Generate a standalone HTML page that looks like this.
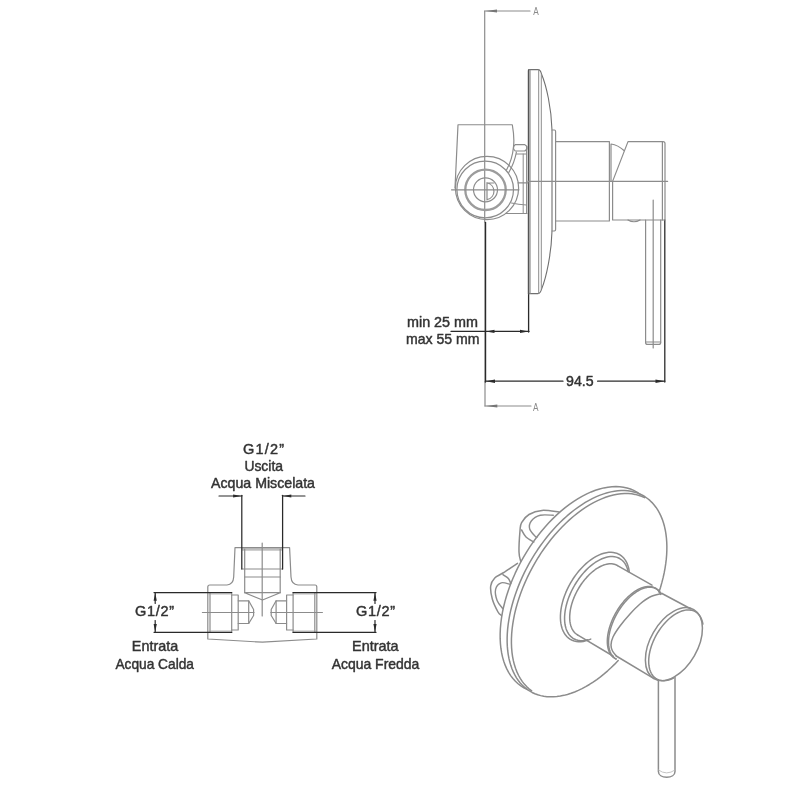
<!DOCTYPE html>
<html><head><meta charset="utf-8"><title>Schema tecnico</title>
<style>
html,body{margin:0;padding:0;background:#fff;}
svg{display:block;font-family:"Liberation Sans",sans-serif;}
</style></head><body>
<svg width="800" height="800" viewBox="0 0 800 800" stroke-linecap="round" stroke-linejoin="round">
<defs><filter id="soft" x="0" y="0" width="800" height="800" filterUnits="userSpaceOnUse"><feGaussianBlur stdDeviation="0.7"/></filter></defs>
<rect width="800" height="800" fill="#fff"/>
<g filter="url(#soft)">
<line x1="484.7" y1="11" x2="484.7" y2="222" stroke="#8c8c8c" stroke-width="1.2"/>
<line x1="484.7" y1="11" x2="530" y2="11" stroke="#8c8c8c" stroke-width="1.2"/>
<polygon points="485,11 497.0,9.5 497.0,12.5" fill="#777"/>
<text x="536" y="15" font-size="10.5" text-anchor="middle" fill="#8a8a8a" stroke="#8a8a8a" stroke-width="0" font-weight="normal" textLength="5.5" lengthAdjust="spacingAndGlyphs">A</text>
<line x1="485" y1="382" x2="485" y2="406" stroke="#8c8c8c" stroke-width="1.2"/>
<line x1="485" y1="406" x2="531" y2="406" stroke="#8c8c8c" stroke-width="1.2"/>
<polygon points="485.3,406 497.3,404.5 497.3,407.5" fill="#777"/>
<text x="535.7" y="411" font-size="10.5" text-anchor="middle" fill="#8a8a8a" stroke="#8a8a8a" stroke-width="0" font-weight="normal" textLength="5.5" lengthAdjust="spacingAndGlyphs">A</text>
<line x1="485.4" y1="222.5" x2="485.4" y2="382" stroke="#2b2b2b" stroke-width="1.6"/>
<line x1="664.8" y1="220" x2="664.8" y2="382" stroke="#2b2b2b" stroke-width="1.3"/>
<line x1="528.6" y1="293" x2="528.6" y2="332" stroke="#2b2b2b" stroke-width="1.3"/>
<line x1="451" y1="331.4" x2="529" y2="331.4" stroke="#2b2b2b" stroke-width="1.2"/>
<polygon points="486,331.4 494.5,329.7 494.5,333.09999999999997" fill="#2b2b2b"/>
<polygon points="528.5,331.4 520.0,333.09999999999997 520.0,329.7" fill="#2b2b2b"/>
<line x1="485.4" y1="381.2" x2="563" y2="381.2" stroke="#2b2b2b" stroke-width="1.2"/>
<line x1="597.6" y1="381.2" x2="664.8" y2="381.2" stroke="#2b2b2b" stroke-width="1.2"/>
<polygon points="486,381.2 495.0,379.5 495.0,382.9" fill="#2b2b2b"/>
<polygon points="664.5,381.2 655.5,382.9 655.5,379.5" fill="#2b2b2b"/>
<text x="442.5" y="327" font-size="14.5" text-anchor="middle" fill="#333" stroke="#333" stroke-width="0.45" font-weight="normal" textLength="71" lengthAdjust="spacingAndGlyphs">min 25 mm</text>
<text x="442.8" y="344" font-size="14.5" text-anchor="middle" fill="#333" stroke="#333" stroke-width="0.45" font-weight="normal" textLength="73.5" lengthAdjust="spacingAndGlyphs">max 55 mm</text>
<text x="579.8" y="386" font-size="15" text-anchor="middle" fill="#333" stroke="#333" stroke-width="0.45" font-weight="normal" textLength="27.6" lengthAdjust="spacingAndGlyphs">94.5</text>
<path d="M528.4,293.6 L528.4,70.8 Q528.4,69.6 529.6,69.6 L538,69.6 Q540.5,69.6 541.5,74 C546.5,86 551.4,108 552,130 L552,231 C551.4,253 546.5,277 541.5,289.2 Q540.5,293.6 538,293.6 Z" stroke="#707070" stroke-width="1.1" fill="none" />
<line x1="528.6" y1="70" x2="528.6" y2="293.6" stroke="#555" stroke-width="1.4"/>
<line x1="530" y1="70" x2="530" y2="293.5" stroke="#8c8c8c" stroke-width="1.2"/>
<line x1="538.7" y1="70" x2="538.7" y2="293.5" stroke="#8c8c8c" stroke-width="1.0"/>
<line x1="541.3" y1="74" x2="541.3" y2="289" stroke="#8c8c8c" stroke-width="1.0"/>
<path d="M552,130 L554.4,130 Q555.6,130 555.6,131.4 L555.6,229.6 Q555.6,231 554.4,231 L552,231" stroke="#8c8c8c" stroke-width="1.2" fill="none" />
<path d="M556,141.6 L609.4,141.6 L609.4,221 L556,221" stroke="#8c8c8c" stroke-width="1.2" fill="none" />
<path d="M611,181.4 L611,144 Q618,145 624,150.5" stroke="#8c8c8c" stroke-width="1.2" fill="none" />
<path d="M612.6,220 L612.6,181.4 L628,141.6 L663,141.6 Q665,141.6 665,143.6 L665,220 Z" stroke="#8c8c8c" stroke-width="1.2" fill="none" />
<line x1="662.4" y1="141.6" x2="662.4" y2="220" stroke="#8c8c8c" stroke-width="1.2"/>
<line x1="528" y1="181.4" x2="667.6" y2="181.4" stroke="#8c8c8c" stroke-width="1.2"/>
<path d="M628,220 Q634,223.5 640,220" stroke="#8c8c8c" stroke-width="1.2" fill="none" />
<path d="M645.6,220 L645.6,342.4 Q645.6,344.4 647.6,344.4 L658.7,344.4 Q660.7,344.4 660.7,342.4 L660.7,220" stroke="#8c8c8c" stroke-width="1.2" fill="none" />
<line x1="645.6" y1="342" x2="660.7" y2="342" stroke="#8c8c8c" stroke-width="1.2"/>
<line x1="653.2" y1="200" x2="653.2" y2="348" stroke="#8c8c8c" stroke-width="1.2"/>
<path d="M455,188 L458,124.75 L512.3,124.75 C513.6,132 514.2,140 513.6,146 C512.8,155 510.5,163 506.5,170" stroke="#8c8c8c" stroke-width="1.2" fill="none" />
<path d="M516.4,152 C515,160 512,167 508.8,172.5" stroke="#8c8c8c" stroke-width="1.2" fill="none" />
<path d="M515.2,144.6 L524.8,144.6 L527,146.6 L527,149 L524.8,151 L515.2,151 L513.6,149 L513.6,146.6 Z" stroke="#8c8c8c" stroke-width="1.2" fill="none" />
<line x1="526.6" y1="146" x2="526.6" y2="213.5" stroke="#8c8c8c" stroke-width="1.1"/>
<line x1="523.2" y1="154" x2="523.2" y2="213" stroke="#8c8c8c" stroke-width="1.0"/>
<line x1="516.4" y1="154" x2="526.5" y2="154" stroke="#8c8c8c" stroke-width="1.0"/>
<circle cx="487" cy="188" r="31.6" stroke="#8c8c8c" stroke-width="1.2" fill="none"/>
<circle cx="485.2" cy="189.5" r="28.3" stroke="#8c8c8c" stroke-width="1.2" fill="none"/>
<circle cx="485.5" cy="189.8" r="20.2" stroke="#9c9c9c" stroke-width="2.3" fill="none"/>
<circle cx="485.5" cy="189.8" r="12" stroke="#8c8c8c" stroke-width="1.2" fill="none"/>
<path d="M487,183 L494,183 M487,182.5 L487,200 M487.5,183 A8.5,8.5 0 0 1 487.5,199.5" stroke="#8c8c8c" stroke-width="1.2" fill="none" />
<line x1="451.5" y1="189.8" x2="519" y2="189.8" stroke="#8c8c8c" stroke-width="1.2"/>
<line x1="518" y1="182.8" x2="528" y2="182.8" stroke="#8c8c8c" stroke-width="1.2"/>
<path d="M511.5,203 Q518,204.5 526.5,205" stroke="#8c8c8c" stroke-width="1.2" fill="none" />
<line x1="506" y1="213.5" x2="527" y2="213.5" stroke="#8c8c8c" stroke-width="1.2"/>
<path d="M235,547.7 L289.6,547.7 L291,577 Q291.5,584.6 298,585 L315,585 Q316.8,585 316.8,587 L316.8,639 L262.5,642.2 L207.8,639 L207.8,587 Q207.8,585 209.8,585 L227,585 Q233.2,584.6 233.7,577 Z" stroke="#8c8c8c" stroke-width="1.2" fill="none" />
<line x1="242.2" y1="549" x2="282.5" y2="549" stroke="#8c8c8c" stroke-width="1.2"/>
<line x1="242.2" y1="550.2" x2="282.5" y2="550.2" stroke="#aaa" stroke-width="0.8"/>
<line x1="244.7" y1="549" x2="244.7" y2="592.7" stroke="#8c8c8c" stroke-width="1.2"/>
<line x1="280.2" y1="549" x2="280.2" y2="592.7" stroke="#8c8c8c" stroke-width="1.2"/>
<line x1="242.2" y1="569" x2="282.5" y2="569" stroke="#8c8c8c" stroke-width="1.2"/>
<line x1="244.7" y1="577" x2="280.2" y2="577" stroke="#8c8c8c" stroke-width="1.2"/>
<path d="M244.7,592.7 L280.2,592.7 M244.7,592.7 L262.5,600 L280.2,592.7" stroke="#8c8c8c" stroke-width="1.2" fill="none" />
<line x1="262.2" y1="543" x2="262.2" y2="616" stroke="#8c8c8c" stroke-width="1.2"/>
<line x1="210" y1="592.7" x2="210" y2="632.5" stroke="#8c8c8c" stroke-width="1.2"/>
<line x1="231.7" y1="592.7" x2="231.7" y2="632.5" stroke="#8c8c8c" stroke-width="1.2"/>
<line x1="209" y1="594" x2="231.7" y2="594" stroke="#aaa" stroke-width="0.8"/>
<line x1="209" y1="631" x2="231.7" y2="631" stroke="#aaa" stroke-width="0.8"/>
<path d="M231.7,595 L238.2,595 L238.2,630 L231.7,630" stroke="#8c8c8c" stroke-width="1.2" fill="none" />
<path d="M238.2,600.8 L248.7,600.8 L253.6,609.5 L253.6,615.5 L248.7,623.5 L238.2,623.5" stroke="#8c8c8c" stroke-width="1.2" fill="none" />
<line x1="248.7" y1="600.8" x2="248.7" y2="623.5" stroke="#8c8c8c" stroke-width="1.2"/>
<line x1="202.4" y1="612.5" x2="254" y2="612.5" stroke="#8c8c8c" stroke-width="1.2"/>
<line x1="314.79999999999995" y1="592.7" x2="314.79999999999995" y2="632.5" stroke="#8c8c8c" stroke-width="1.2"/>
<line x1="293.09999999999997" y1="592.7" x2="293.09999999999997" y2="632.5" stroke="#8c8c8c" stroke-width="1.2"/>
<line x1="315.79999999999995" y1="594" x2="293.09999999999997" y2="594" stroke="#aaa" stroke-width="0.8"/>
<line x1="315.79999999999995" y1="631" x2="293.09999999999997" y2="631" stroke="#aaa" stroke-width="0.8"/>
<path d="M293.09999999999997,595 L286.59999999999997,595 L286.59999999999997,630 L293.09999999999997,630" stroke="#8c8c8c" stroke-width="1.2" fill="none" />
<path d="M286.59999999999997,600.8 L276.09999999999997,600.8 L271.19999999999993,609.5 L271.19999999999993,615.5 L276.09999999999997,623.5 L286.59999999999997,623.5" stroke="#8c8c8c" stroke-width="1.2" fill="none" />
<line x1="276.09999999999997" y1="600.8" x2="276.09999999999997" y2="623.5" stroke="#8c8c8c" stroke-width="1.2"/>
<line x1="322.4" y1="612.5" x2="270.79999999999995" y2="612.5" stroke="#8c8c8c" stroke-width="1.2"/>
<line x1="241.8" y1="495.3" x2="241.8" y2="569" stroke="#2b2b2b" stroke-width="1.25"/>
<line x1="282.6" y1="495.3" x2="282.6" y2="569" stroke="#2b2b2b" stroke-width="1.25"/>
<line x1="219" y1="496" x2="241.8" y2="496" stroke="#2b2b2b" stroke-width="1.2"/>
<polygon points="241.6,496 233.1,497.6 233.1,494.4" fill="#2b2b2b"/>
<line x1="282.6" y1="496" x2="305" y2="496" stroke="#2b2b2b" stroke-width="1.2"/>
<polygon points="282.8,496 291.3,494.4 291.3,497.6" fill="#2b2b2b"/>
<line x1="154" y1="592.5" x2="231.7" y2="592.5" stroke="#2b2b2b" stroke-width="1.25"/>
<line x1="154" y1="632.3" x2="231.7" y2="632.3" stroke="#2b2b2b" stroke-width="1.25"/>
<line x1="293" y1="592.5" x2="376" y2="592.5" stroke="#2b2b2b" stroke-width="1.25"/>
<line x1="293" y1="632.3" x2="376" y2="632.3" stroke="#2b2b2b" stroke-width="1.25"/>
<line x1="155.2" y1="592.5" x2="155.2" y2="603.5" stroke="#2b2b2b" stroke-width="1.2"/>
<polygon points="155.2,592.8 156.79999999999998,600.8 153.6,600.8" fill="#2b2b2b"/>
<line x1="155.2" y1="620.5" x2="155.2" y2="632.3" stroke="#2b2b2b" stroke-width="1.2"/>
<polygon points="155.2,632 153.6,624.0 156.79999999999998,624.0" fill="#2b2b2b"/>
<line x1="375" y1="592.5" x2="375" y2="603.5" stroke="#2b2b2b" stroke-width="1.2"/>
<polygon points="375,592.8 376.6,600.8 373.4,600.8" fill="#2b2b2b"/>
<line x1="375" y1="620.5" x2="375" y2="632.3" stroke="#2b2b2b" stroke-width="1.2"/>
<polygon points="375,632 373.4,624.0 376.6,624.0" fill="#2b2b2b"/>
<text x="263.5" y="454" font-size="14.5" text-anchor="middle" fill="#333" stroke="#333" stroke-width="0.45" font-weight="normal" textLength="41" lengthAdjust="spacing">G1/2”</text>
<text x="263.7" y="471" font-size="14.5" text-anchor="middle" fill="#333" stroke="#333" stroke-width="0.45" font-weight="normal" textLength="38.6" lengthAdjust="spacingAndGlyphs">Uscita</text>
<text x="263" y="488" font-size="14.5" text-anchor="middle" fill="#333" stroke="#333" stroke-width="0.45" font-weight="normal" textLength="104" lengthAdjust="spacingAndGlyphs">Acqua Miscelata</text>
<text x="154.5" y="616.3" font-size="14.5" text-anchor="middle" fill="#333" stroke="#333" stroke-width="0.45" font-weight="normal" textLength="39" lengthAdjust="spacing">G1/2”</text>
<text x="155" y="651.2" font-size="14.5" text-anchor="middle" fill="#333" stroke="#333" stroke-width="0.45" font-weight="normal" textLength="46.3" lengthAdjust="spacingAndGlyphs">Entrata</text>
<text x="154.7" y="668.8" font-size="14.5" text-anchor="middle" fill="#333" stroke="#333" stroke-width="0.45" font-weight="normal" textLength="78.6" lengthAdjust="spacingAndGlyphs">Acqua Calda</text>
<text x="375.5" y="616.3" font-size="14.5" text-anchor="middle" fill="#333" stroke="#333" stroke-width="0.45" font-weight="normal" textLength="39" lengthAdjust="spacing">G1/2”</text>
<text x="375.3" y="651.2" font-size="14.5" text-anchor="middle" fill="#333" stroke="#333" stroke-width="0.45" font-weight="normal" textLength="46.6" lengthAdjust="spacingAndGlyphs">Entrata</text>
<text x="375.5" y="668.8" font-size="14.5" text-anchor="middle" fill="#333" stroke="#333" stroke-width="0.45" font-weight="normal" textLength="87.7" lengthAdjust="spacingAndGlyphs">Acqua Fredda</text>
<path d="M527.05,689.37 L523.88,687.78 L520.87,685.89 L518.04,683.73 L515.39,681.28 L512.93,678.57 L510.67,675.59 L508.62,672.36 L506.77,668.88 L505.15,665.17 L503.74,661.23 L502.56,657.09 L501.61,652.74 L500.89,648.21 L500.41,643.51 L500.16,638.64 L500.15,633.63 L500.37,628.49 L500.83,623.24 L501.52,617.89 L502.44,612.45 L503.60,606.95 L504.98,601.39 L506.58,595.80 L508.40,590.20 L510.43,584.59 L512.67,578.99 L515.11,573.43 L517.73,567.92 L520.55,562.47 L523.54,557.10 L526.69,551.83 L530.00,546.67 L533.46,541.63 L537.06,536.74 L540.79,532.01 L544.63,527.45 L548.58,523.07 L552.62,518.88 L556.74,514.91 L560.93,511.16 L565.17,507.64 L569.46,504.36 L573.78,501.34 L578.12,498.58 L582.46,496.08 L586.80,493.87 L591.12,491.94 L595.40,490.29 L599.64,488.94 L603.82,487.89 L607.93,487.14 L611.96,486.69 L615.89,486.55 L619.72,486.72 L623.43,487.18 L627.01,487.95 L630.45,489.03 L633.74,490.40 L636.88,492.06 L639.84,494.01" stroke="#8c8c8c" stroke-width="1.5" fill="none" />
<path d="M618.19,660.59 L614.75,664.15 L611.25,667.57 L607.70,670.82 L604.10,673.91 L600.47,676.83 L596.81,679.57 L593.12,682.12 L589.43,684.49 L585.73,686.66 L582.03,688.63 L578.34,690.40 L574.67,691.96 L571.03,693.30 L567.42,694.44 L563.86,695.36 L560.34,696.06 L556.88,696.54 L553.49,696.80 L550.16,696.84 L546.92,696.65 L543.76,696.25 L540.70,695.62 L537.73,694.78 L534.87,693.72 L532.12,692.45 L529.49,690.96 L526.99,689.26 L524.61,687.36 L522.37,685.26 L520.26,682.96 L518.30,680.47 L516.49,677.80 L514.82,674.94 L513.32,671.91 L511.97,668.71 L510.78,665.35 L509.75,661.83 L508.89,658.17 L508.20,654.37 L507.68,650.44 L507.33,646.39 L507.15,642.23 L507.14,637.96 L507.30,633.60 L507.63,629.15 L508.14,624.62 L508.81,620.03 L509.65,615.38 L510.66,610.69 L511.83,605.96 L513.16,601.20 L514.65,596.43 L516.30,591.65 L518.10,586.87 L520.04,582.11 L522.13,577.38 L524.36,572.68 L526.72,568.02 L529.21,563.42 L531.83,558.89 L534.57,554.43 L537.41,550.05 L540.37,545.77 L543.42,541.59 L546.57,537.52 L549.80,533.58 L553.12,529.76 L556.51,526.08 L559.96,522.54 L563.47,519.16 L567.03,515.94 L570.63,512.88 L574.27,510.00 L577.94,507.30 L581.63,504.78 L585.32,502.45 L589.03,500.32 L592.72,498.39 L596.41,496.67 L600.07,495.15 L603.71,493.85 L607.31,492.76 L610.86,491.88 L614.37,491.23 L617.82,490.79 L621.20,490.58 L624.50,490.58 L627.73,490.81 L630.87,491.26 L633.91,491.93 L636.86,492.82 L639.70,493.92 L642.42,495.24 L645.03,496.77 L647.51,498.51 L649.86,500.45 L652.07,502.59 L654.15,504.93 L656.08,507.46 L657.86,510.17 L659.50,513.06 L660.97,516.13 L662.29,519.36 L663.44,522.76 L664.44,526.30 L665.26,529.99 L665.92,533.82 L666.40,537.77 L666.72,541.84 L666.87,546.03 L666.84,550.32 L666.65,554.70 L666.28,559.17 L665.74,563.70 L665.03,568.31 L664.16,572.97 L663.12,577.67 L661.91,582.41 L660.55,587.17 L659.03,591.94" stroke="#8c8c8c" stroke-width="1.5" fill="none" />
<path d="M531.65,690.87 L529.04,688.85 L526.59,686.59 L524.30,684.09 L522.18,681.37 L520.24,678.42 L518.48,675.26 L516.91,671.89 L515.53,668.32 L514.35,664.57 L513.36,660.64 L512.57,656.54 L511.98,652.28 L511.60,647.87 L511.42,643.33 L511.44,638.67 L511.67,633.89 L512.11,629.02 L512.75,624.06 L513.59,619.03 L514.62,613.93 L515.86,608.79 L517.29,603.62 L518.91,598.42 L520.71,593.22 L522.69,588.02 L524.85,582.84 L527.18,577.70 L529.68,572.61 L532.33,567.57 L535.13,562.60 L538.08,557.73 L541.16,552.95 L544.37,548.28 L547.70,543.73 L551.14,539.32 L554.68,535.06 L558.31,530.95 L562.03,527.01 L565.82,523.24 L569.68,519.67 L573.59,516.29 L577.54,513.12 L581.53,510.16 L585.54,507.42 L589.56,504.92 L593.59,502.64 L597.61,500.61 L601.61,498.83 L605.58,497.29 L609.51,496.01 L613.39,494.99 L617.21,494.23 L620.97,493.74 L624.64,493.50 L628.23,493.54 L631.72,493.83 L635.10,494.39 L638.36,495.21 L641.51,496.30 L644.52,497.64" stroke="#8c8c8c" stroke-width="1.5" fill="none" />
<path d="M590.73,639.12 L588.19,640.12 L585.68,640.88 L583.23,641.40 L580.84,641.67 L578.53,641.70 L576.32,641.47 L574.20,641.00 L572.20,640.29 L570.33,639.34 L568.59,638.15 L567.00,636.73 L565.57,635.09 L564.30,633.25 L563.20,631.20 L562.27,628.96 L561.53,626.54 L560.97,623.96 L560.60,621.24 L560.42,618.37 L560.44,615.39 L560.64,612.31 L561.04,609.14 L561.62,605.90 L562.39,602.62 L563.34,599.30 L564.46,595.97 L565.76,592.65 L567.21,589.35 L568.82,586.10 L570.58,582.90 L572.47,579.78 L574.48,576.76 L576.61,573.85 L578.84,571.07 L581.16,568.43 L583.56,565.95 L586.02,563.64 L588.53,561.52 L591.08,559.59 L593.65,557.87 L596.22,556.37 L598.79,555.09 L601.34,554.05 L603.85,553.24 L606.31,552.68 L608.72,552.36 L611.04,552.29 L613.28,552.47 L615.41,552.89 L617.43,553.56 L619.33,554.47 L621.09,555.61 L622.71,556.99 L624.17,558.58 L625.48,560.39 L626.61,562.40 L627.57,564.61 L628.34,566.99 L628.94,569.54 L629.34,572.24" stroke="#8c8c8c" stroke-width="1.5" fill="none" />
<path d="M587.87,639.70 L585.72,640.22 L583.62,640.53 L581.59,640.64 L579.63,640.54 L577.76,640.23 L575.98,639.71 L574.30,638.99 L572.73,638.07 L571.29,636.95 L569.97,635.65 L568.78,634.16 L567.73,632.49 L566.82,630.66 L566.06,628.67 L565.46,626.53 L565.00,624.25 L564.71,621.84 L564.57,619.32 L564.59,616.70 L564.78,613.98 L565.12,611.19 L565.61,608.34 L566.26,605.44 L567.06,602.50 L568.01,599.55 L569.10,596.59 L570.33,593.64 L571.68,590.72 L573.17,587.84 L574.76,585.00 L576.47,582.24 L578.28,579.56 L580.17,576.97 L582.15,574.49 L584.20,572.12 L586.32,569.89 L588.48,567.80 L590.69,565.87 L592.92,564.09 L595.18,562.49 L597.44,561.06 L599.70,559.83 L601.94,558.78 L604.16,557.93 L606.34,557.28 L608.47,556.84 L610.55,556.60 L612.55,556.58 L614.48,556.76 L616.32,557.14 L618.06,557.74 L619.70,558.53 L621.22,559.52 L622.62,560.71 L623.89,562.09 L625.03,563.64 L626.03,565.37 L626.88,567.26 L627.58,569.31 L628.13,571.51" stroke="#8c8c8c" stroke-width="1.5" fill="none" />
<path d="M577.50,634.84 L576.52,634.21 L575.59,633.49 L574.73,632.67 L573.92,631.77 L573.18,630.77 L572.51,629.70 L571.91,628.54 L571.37,627.31 L570.91,626.00 L570.52,624.62 L570.21,623.18 L569.97,621.67 L569.80,620.10 L569.71,618.48 L569.70,616.81 L569.77,615.09 L569.91,613.34 L570.12,611.54 L570.41,609.72 L570.77,607.86 L571.21,605.99 L571.72,604.10 L572.30,602.20 L572.95,600.30 L573.67,598.40 L574.45,596.50 L575.30,594.61 L576.20,592.73 L577.17,590.88 L578.19,589.05 L579.26,587.25 L580.38,585.49 L581.55,583.77 L582.77,582.09 L584.02,580.46 L585.31,578.89 L586.64,577.38 L587.99,575.92 L589.37,574.54 L590.77,573.22 L592.20,571.98 L593.63,570.82 L595.08,569.73 L596.53,568.73 L597.99,567.82 L599.44,567.00 L600.89,566.26 L602.33,565.62 L603.76,565.07 L605.16,564.62 L606.55,564.27 L607.92,564.02 L609.25,563.86 L610.55,563.81 L611.82,563.85 L613.05,564.00 L614.23,564.24 L615.37,564.58 L616.46,565.02 L617.50,565.56" stroke="#8c8c8c" stroke-width="1.5" fill="none" />
<line x1="617.5" y1="565.6" x2="652" y2="585.2" stroke="#8c8c8c" stroke-width="1.5"/>
<line x1="577.5" y1="634.8" x2="613" y2="656" stroke="#8c8c8c" stroke-width="1.5"/>
<path d="M616.12,658.95 L614.94,658.38 L613.84,657.69 L612.82,656.88 L611.87,655.95 L611.00,654.90 L610.22,653.73 L609.53,652.46 L608.93,651.09 L608.42,649.61 L608.01,648.05 L607.69,646.39 L607.47,644.65 L607.34,642.84 L607.32,640.95 L607.39,639.00 L607.56,637.00 L607.83,634.95 L608.20,632.85 L608.66,630.72 L609.21,628.57 L609.86,626.39 L610.59,624.21 L611.42,622.02 L612.32,619.83 L613.31,617.66 L614.37,615.50 L615.51,613.38 L616.72,611.28 L617.99,609.24 L619.32,607.24 L620.71,605.29 L622.15,603.41 L623.63,601.60 L625.16,599.87 L626.72,598.22 L628.31,596.66 L629.92,595.20 L631.55,593.83 L633.19,592.57 L634.84,591.41 L636.49,590.37 L638.14,589.45 L639.77,588.65 L641.39,587.97 L642.98,587.41 L644.55,586.98 L646.08,586.68 L647.57,586.51 L649.02,586.47 L650.42,586.57 L651.76,586.79 L653.04,587.14 L654.26,587.62 L655.41,588.22 L656.49,588.95 L657.49,589.80 L658.42,590.77 L659.25,591.86 L660.01,593.06 L660.67,594.36" stroke="#8c8c8c" stroke-width="1.5" fill="none" />
<path d="M615.95,658.97 L614.91,658.30 L613.93,657.51 L613.03,656.61 L612.21,655.60 L611.46,654.49 L610.79,653.29 L610.21,651.98 L609.70,650.59 L609.29,649.11 L608.96,647.54 L608.72,645.90 L608.58,644.19 L608.52,642.41 L608.55,640.58 L608.67,638.68 L608.88,636.74 L609.17,634.76 L609.56,632.75 L610.03,630.70 L610.59,628.63 L611.23,626.55 L611.96,624.46 L612.76,622.36 L613.63,620.28 L614.59,618.20 L615.61,616.14 L616.69,614.11 L617.85,612.11 L619.06,610.14 L620.32,608.22 L621.64,606.36 L623.01,604.55 L624.41,602.80 L625.86,601.12 L627.34,599.52 L628.85,597.99 L630.38,596.55 L631.94,595.20 L633.50,593.94 L635.08,592.78 L636.65,591.72 L638.23,590.76 L639.80,589.91 L641.36,589.17 L642.90,588.55 L644.42,588.04 L645.91,587.64 L647.38,587.37 L648.80,587.21 L650.18,587.17 L651.52,587.25 L652.81,587.46 L654.05,587.77 L655.22,588.21 L656.34,588.76 L657.39,589.43 L658.37,590.21 L659.28,591.10 L660.11,592.09 L660.87,593.19" stroke="#8c8c8c" stroke-width="1.5" fill="none" />
<path d="M662.00,593.50 C660.00,594.08 653.67,595.25 650.00,597.00 C646.33,598.75 643.33,601.17 640.00,604.00 C636.67,606.83 633.33,610.33 630.00,614.00 C626.67,617.67 622.83,622.17 620.00,626.00 C617.17,629.83 614.50,633.83 613.00,637.00 C611.50,640.17 611.08,642.67 611.00,645.00 C610.92,647.33 611.62,649.17 612.50,651.00 C613.38,652.83 615.62,655.17 616.25,656.00" stroke="#8c8c8c" stroke-width="1.5" fill="none" />
<line x1="662" y1="593.5" x2="691" y2="609" stroke="#8c8c8c" stroke-width="1.5"/>
<line x1="616.25" y1="656" x2="654" y2="678.6" stroke="#8c8c8c" stroke-width="1.5"/>
<ellipse cx="673.9" cy="644.1" rx="39.8" ry="23.6" transform="rotate(-60 673.9 644.1)" stroke="#8c8c8c" stroke-width="1.5" fill="none"/>
<path d="M673.50,678.18 L671.49,679.06 L669.50,679.75 L667.56,680.25 L665.65,680.57 L663.81,680.69 L662.03,680.61 L660.33,680.34 L658.72,679.88 L657.20,679.23 L655.78,678.39 L654.47,677.36 L653.29,676.17 L652.23,674.80 L651.30,673.27 L650.50,671.59 L649.84,669.76 L649.33,667.79 L648.97,665.71 L648.75,663.51 L648.69,661.21 L648.77,658.82 L649.01,656.36 L649.39,653.84 L649.92,651.27 L650.59,648.67 L651.40,646.05 L652.35,643.43 L653.43,640.82 L654.63,638.23 L655.95,635.68 L657.38,633.18 L658.91,630.75 L660.53,628.40 L662.24,626.14 L664.03,623.99 L665.88,621.95 L667.79,620.05 L669.74,618.28 L671.73,616.66 L673.74,615.20 L675.77,613.90 L677.79,612.78 L679.81,611.83 L681.80,611.07 L683.76,610.50 L685.68,610.12 L687.55,609.93 L689.35,609.94 L691.08,610.14 L692.72,610.54 L694.28,611.12 L695.73,611.90 L697.08,612.85 L698.31,613.99 L699.41,615.30 L700.39,616.77 L701.24,618.40 L701.94,620.18 L702.50,622.10 L702.92,624.14" stroke="#8c8c8c" stroke-width="1.5" fill="none" />
<path d="M658.4,680 L658.4,771.5 C658.4,775 662,777.2 666.7,777.2 C671.4,777.2 675,775 675,771.5 L675,677" stroke="#8c8c8c" stroke-width="1.5" fill="none" />
<path d="M658.4,770 Q666.7,776 675,770" stroke="#b5b5b5" stroke-width="0.8" fill="none" />
<path d="M559.00,512.00 C556.17,511.73 547.00,509.98 542.00,510.40 C537.00,510.82 532.40,512.47 529.00,514.50 C525.60,516.53 523.10,519.88 521.60,522.60 C520.10,525.32 520.43,525.90 520.00,530.80 C519.57,535.70 518.87,546.85 519.00,552.00 C519.13,557.15 520.50,560.08 520.80,561.70" stroke="#8c8c8c" stroke-width="1.5" fill="none" />
<path d="M553.30,515.30 C551.13,515.30 543.97,514.35 540.30,515.30 C536.63,516.25 533.07,518.72 531.30,521.00 C529.53,523.28 529.02,526.42 529.70,529.00 C530.38,531.58 534.18,535.12 535.40,536.50 C536.62,537.88 536.73,537.17 537.00,537.30" stroke="#8c8c8c" stroke-width="1.4" fill="none" />
<path d="M521.60,530.00 C522.33,531.17 523.97,535.00 526.00,537.00 C528.03,539.00 532.50,541.17 533.80,542.00" stroke="#8c8c8c" stroke-width="1.5" fill="none" />
<path d="M517.50,563.30 C515.07,564.92 506.69,570.55 502.90,573.00 C499.11,575.45 496.78,575.83 494.75,578.00 C492.72,580.17 491.11,582.50 490.70,586.00 C490.29,589.50 491.08,594.67 492.30,599.00 C493.52,603.33 496.51,609.28 498.00,612.00 C499.49,614.72 500.71,614.75 501.25,615.30" stroke="#8c8c8c" stroke-width="1.5" fill="none" />
<path d="M510.20,584.40 C508.71,584.13 503.68,581.98 501.25,582.80 C498.82,583.62 496.28,586.32 495.60,589.30 C494.93,592.28 495.98,597.45 497.20,600.70 C498.42,603.95 501.95,607.45 502.90,608.80" stroke="#8c8c8c" stroke-width="1.4" fill="none" />
<path d="M502.90,574.70 C503.82,575.33 507.08,577.03 508.40,578.50 C509.72,579.97 510.40,582.67 510.80,583.50" stroke="#8c8c8c" stroke-width="1.5" fill="none" />
</g>
</svg>
</body></html>
